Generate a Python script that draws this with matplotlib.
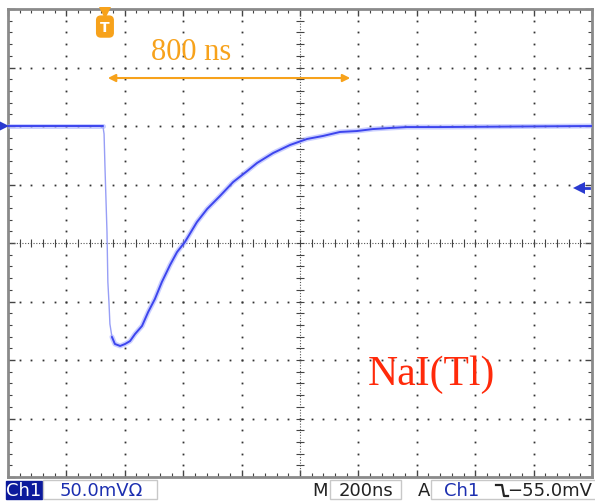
import matplotlib
matplotlib.use("Agg")
import matplotlib.pyplot as plt
from matplotlib.patches import Rectangle
from matplotlib.lines import Line2D
import numpy as np

# ---- data (time in ns from left edge, voltage in mV relative to screen centre) ----
t_ns = [0, 325, 329, 332, 339, 342, 346, 349, 356, 366, 384, 401, 418, 435, 459,
        480, 503, 527, 555, 579, 606, 647, 682, 726, 771, 819, 853, 908, 966, 1024,
        1079, 1137, 1195, 1250, 1308, 1366, 1479, 2000]
v_mv = [100, 100, 93.2, 65.8, 9.4, -33.3, -52.1, -69.2, -80.3, -86.3, -88.0, -86.3,
        -83.8, -77.8, -70.9, -59.0, -47.9, -33.3, -18.8, -7.7, 0.9, 17.9, 29.1, 40.2,
        52.1, 61.5, 68.4, 76.9, 83.8, 88.9, 91.5, 94.9, 95.7, 97.4, 98.3, 99.1, 99.1, 100]

trigger_t = 332
span_start, span_end = 342, 1172
span_label = "800 ns"
crystal_label = "NaI(Tl)"
ch_label = "Ch1"
volts_label = "50.0mVΩ"
time_label = "200ns"
trig_level_label = "−55.0mV"
ground_level = 100
trig_level_marker = 47

W, H = 595, 502
fig = plt.figure(figsize=(W / 100, H / 100), dpi=100)
fig.patch.set_facecolor("white")

def fx(px):
    return px / W

def fy(py):
    return 1 - py / H

ax = fig.add_axes([fx(8), fy(478), fx(592) - fx(8), fy(10) - fy(478)])
ax.set_xlim(0, 2000)
ax.set_ylim(-200, 200)
ax.set_facecolor("white")

# border + ticks
for s in ax.spines.values():
    s.set_color("#8a8a8a")
    s.set_linewidth(2)
ax.set_xticks(np.arange(0, 2001, 200))
ax.set_yticks(np.arange(-200, 201, 50))
ax.set_xticks(np.arange(0, 2001, 40), minor=True)
ax.set_yticks(np.arange(-200, 201, 10), minor=True)
ax.tick_params(which="both", direction="in", top=True, right=True,
               labelbottom=False, labelleft=False, color="#444444")
ax.tick_params(which="major", length=5, width=1)
ax.tick_params(which="minor", length=3, width=0.8)

# dotted graticule
dot_kw = dict(ls="none", marker="s", ms=1.3, color="#333333", mew=0)
yy = np.arange(-200, 201, 10)
xx = np.arange(0, 2001, 40)
for xv in range(200, 2000, 200):
    if xv == 1000:
        continue
    ax.plot(np.full_like(yy, xv), yy, **dot_kw)
for yv in (-150, -100, -50, 50, 100, 150):
    ax.plot(xx, np.full_like(xx, yv), **dot_kw)

# centre cross with ticks
ax.axhline(0, color="#555555", lw=0.8, ls=(0, (1, 1.5)))
ax.axvline(1000, color="#555555", lw=0.8, ls=(0, (1, 1.5)))
ax.plot(xx, np.zeros_like(xx), ls="none", marker="|", ms=6, color="#444444", mew=0.8)
ax.plot(np.full_like(yy, 1000), yy, ls="none", marker="_", ms=6, color="#444444", mew=0.8)

# trace: fast falling edge drawn faint, slow parts drawn thick
edge = slice(1, 9)
body_a = slice(0, 2)
body_b = slice(8, None)
ax.plot(t_ns[edge], v_mv[edge], color="#7d86f4", lw=1.0, alpha=0.8, zorder=5)
for sl in (body_a, body_b):
    ax.plot(t_ns[sl], v_mv[sl], color="#a0a8ff", lw=3.6, alpha=0.55,
            solid_joinstyle="round", solid_capstyle="round", zorder=5)
    ax.plot(t_ns[sl], v_mv[sl], color="#3d45ee", lw=1.4,
            solid_joinstyle="round", solid_capstyle="round", zorder=6)

orange = "#f7a21b"
# span arrow and label
ax.annotate("", xy=(span_start, 141), xytext=(span_end, 141),
            arrowprops=dict(arrowstyle="<|-|>", color=orange, lw=1.5,
                            mutation_scale=11, shrinkA=0, shrinkB=0), zorder=7)
ax.text(627, 164, span_label, color=orange, fontsize=22,
        family="Liberation Serif", ha="center", va="center", zorder=7)

# crystal label
ax.text(1449, -112, crystal_label, color="#ff2a0a", fontsize=30,
        family="Liberation Serif", ha="center", va="center", zorder=7)

# trigger position marker
ax.plot([trigger_t], [197], marker="v", ms=8, color=orange, mew=0, clip_on=False, zorder=8)
ax.text(trigger_t, 185, "T", color="white", fontsize=10, fontweight="bold",
        ha="center", va="center", zorder=9,
        bbox=dict(boxstyle="round,pad=0.25,rounding_size=0.3", fc=orange, ec=orange))

# ground marker (left) and trigger level marker (right)
ax.plot([-14], [ground_level], marker=">", ms=7, color="#2a3ad0", mew=0, clip_on=False, zorder=8)
ax.plot([1955], [trig_level_marker], marker="<", ms=8, color="#2a3ad0", mew=0, zorder=8)
ax.plot([1955, 1990], [trig_level_marker, trig_level_marker], color="#2a3ad0", lw=2, zorder=8)

# ---- status bar ----
def box(x0, y0, x1, y1, fc="white", ec="#c8c8c8", lw=1.0):
    fig.patches.append(Rectangle((fx(x0), fy(y1)), fx(x1) - fx(x0), fy(y0) - fy(y1),
                                 transform=fig.transFigure, fc=fc, ec=ec, lw=lw))

txt_kw = dict(fontsize=13, family="DejaVu Sans", va="center")
ymid = fy(491)
box(6, 482, 42, 500, fc="#0c1a9c", ec="#0c1a9c")
fig.text(fx(24), ymid, ch_label, color="white", ha="center", **txt_kw)
box(43, 481, 157, 500)
fig.text(fx(101), ymid, volts_label, color="#1c2fb0", ha="center", **txt_kw)

fig.text(fx(320), ymid, "M", color="#222222", ha="center", **txt_kw)
box(330, 481, 401, 500)
fig.text(fx(366), ymid, time_label, color="#222222", ha="center", **txt_kw)
fig.text(fx(424), ymid, "A", color="#222222", ha="center", **txt_kw)
box(431, 481, 596, 500)
fig.text(fx(462), ymid, ch_label, color="#1c2fb0", ha="center", **txt_kw)
# falling-edge trigger icon
fig.add_artist(Line2D([fx(496), fx(502), fx(504), fx(508)],
                      [fy(486), fy(486), fy(497), fy(497)],
                      transform=fig.transFigure, color="#222222", lw=1.6))
fig.text(fx(592), ymid, trig_level_label, color="#222222", ha="right", **txt_kw)

fig.savefig("out.png", dpi=100, facecolor="white")
